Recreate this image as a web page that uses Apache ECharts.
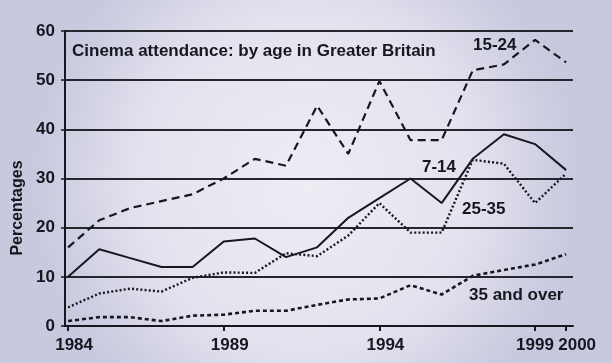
<!DOCTYPE html>
<html>
<head>
<meta charset="utf-8">
<script src="https://cdn.jsdelivr.net/npm/echarts@6/dist/echarts.min.js"></script>
<style>html,body{margin:0;padding:0;}#c{width:612px;height:363px;}</style>
</head>
<body>
<div id="c"></div>
<script>
var years = [1984,1985,1986,1987,1988,1989,1990,1991,1992,1993,1994,1995,1996,1997,1998,1999,2000];
var age7_14 = [10,15.6,13.8,12,12,17.2,17.8,14,16,22,26,30,25,34,39,37,31.7];
var age15_24 = [16,21.5,24,25.4,26.8,30,34,32.6,44.8,35,49.8,37.8,37.8,52,53.2,58.2,53.6];
var age25_35 = [3.8,6.6,7.6,7,9.8,10.9,10.8,14.8,14.2,18.4,25,19,19,33.8,33,25,31];
var age35plus = [1,1.8,1.8,1,2.1,2.3,3.1,3.1,4.3,5.4,5.6,8.3,6.4,10.2,11.4,12.5,14.6];
var xTickLabels = [1984,1989,1994,1999,2000];
var titleText = 'Cinema attendance: by age in Greater Britain';

function pairs(vals){ return years.map(function(y,i){ return [y, vals[i]]; }); }

var ink = '#17171f';
var font = 'Liberation Sans';
var chart = echarts.init(document.getElementById('c'));
function lineSeries(name, vals, type, width){
  return {
    name: name, type: 'line', data: pairs(vals), symbol: 'none', smooth: false,
    lineStyle: { color: ink, width: width, type: type, cap: 'butt' }
  };
}
var labelBase = { color: ink, fontFamily: font, fontWeight: 'bold', fontSize: 17 };
chart.setOption({
  animation: false,
  backgroundColor: {
    type: 'radial', x: 0.5, y: 0.5, r: 0.75,
    colorStops: [{offset: 0, color: '#ededf4'}, {offset: 0.6, color: '#e3e3ef'}, {offset: 1, color: '#c8c8df'}]
  },
  grid: { left: 65, right: 39, top: 31, bottom: 37 },
  xAxis: {
    type: 'value', min: 1983.9, max: 2000.22,
    axisLine: { show: true, lineStyle: { color: ink, width: 2 } },
    axisTick: { show: true, length: 5, customValues: xTickLabels, lineStyle: { color: ink, width: 2 } },
    axisLabel: {
      customValues: xTickLabels, margin: 11, hideOverlap: false, showMinLabel: true, showMaxLabel: true,
      color: ink, fontFamily: font, fontWeight: 'bold', fontSize: 17,
      formatter: function(v){ return v === 2000 ? '{e|' + v + '}' : (v === 1999 ? '{d|' + v + '}' : '{n|' + v + '}'); },
      rich: {
        n: Object.assign({ padding: [0,0,0,12] }, labelBase),
        d: Object.assign({ padding: [0,0,0,0] }, labelBase),
        e: Object.assign({ padding: [0,0,0,22] }, labelBase)
      }
    },
    splitLine: { show: false }
  },
  yAxis: {
    type: 'value', min: 0, max: 60, interval: 10,
    axisLine: { show: true, lineStyle: { color: ink, width: 2 } },
    axisTick: { show: true, length: 4, lineStyle: { color: ink, width: 1.5 } },
    axisLabel: { margin: 10, color: ink, fontFamily: font, fontWeight: 'bold', fontSize: 17 },
    splitLine: { show: true, lineStyle: { color: '#25252e', width: 2 } }
  },
  series: [
    lineSeries('15-24', age15_24, [8,5], 2.2),
    lineSeries('7-14', age7_14, 'solid', 2),
    lineSeries('25-35', age25_35, [2,2.2], 2.4),
    lineSeries('35 and over', age35plus, [4,3], 2.6)
  ],
  graphic: [
    { type: 'text', left: 72, top: 43, style: { text: titleText, fill: ink, font: 'bold 17px "Liberation Sans"' } },
    { type: 'text', left: 473, top: 37, style: { text: '15-24', fill: ink, font: 'bold 17px "Liberation Sans"' } },
    { type: 'text', left: 422, top: 159, style: { text: '7-14', fill: ink, font: 'bold 17px "Liberation Sans"' } },
    { type: 'text', left: 462, top: 201, style: { text: '25-35', fill: ink, font: 'bold 17px "Liberation Sans"' } },
    { type: 'text', left: 469, top: 287, style: { text: '35 and over', fill: ink, font: 'bold 17px "Liberation Sans"' } },
    { type: 'text', x: 18, y: 208, rotation: Math.PI/2, style: { text: 'Percentages', fill: ink, font: 'bold 16px "Liberation Sans"', align: 'center', verticalAlign: 'middle' } }
  ]
});
</script>
</body>
</html>
